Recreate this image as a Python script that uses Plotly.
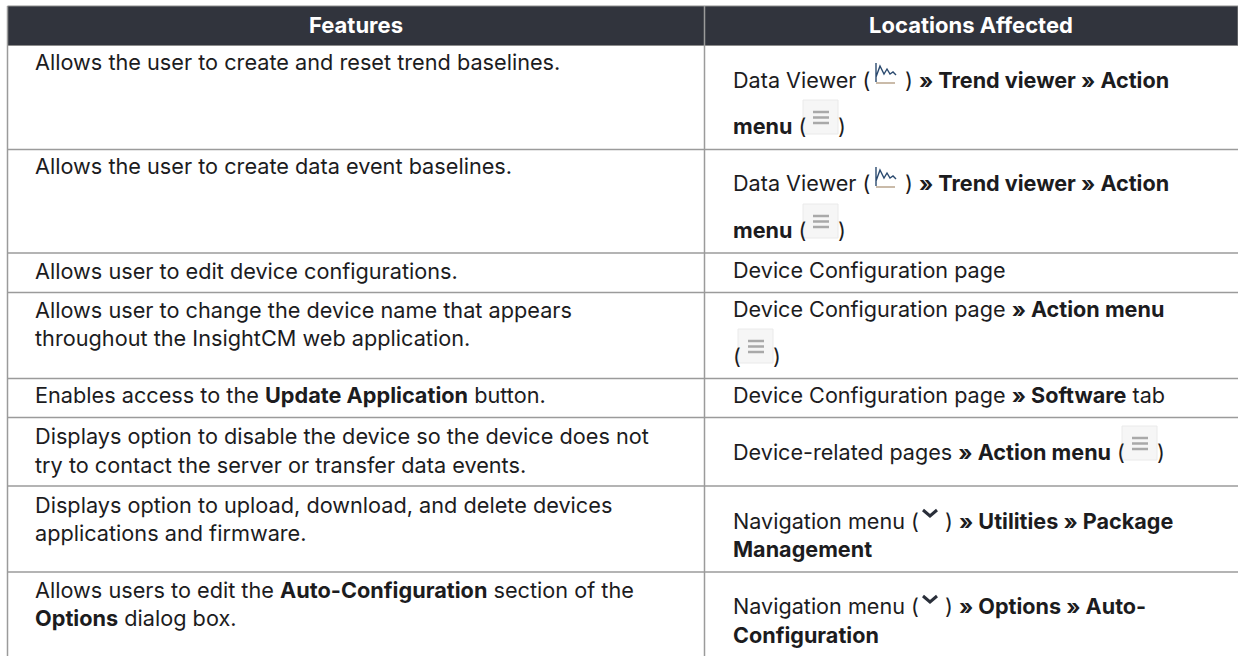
import plotly.graph_objects as go

headers = ["Features", "Locations Affected"]
feature_lines = [
    "Allows the user to create and reset trend baselines.",
    "Allows the user to create data event baselines.",
    "Allows user to edit device configurations.",
    "Allows user to change the device name that appears",
    "throughout the InsightCM web application.",
    "Enables access to the <b>Update Application</b> button.",
    "Displays option to disable the device so the device does not",
    "try to contact the server or transfer data events.",
    "Displays option to upload, download, and delete devices",
    "applications and firmware.",
    "Allows users to edit the <b>Auto-Configuration</b> section of the",
    "<b>Options</b> dialog box.",
]
location_pieces = [
    "Data Viewer (", ") <b>» Trend viewer » Action</b>", "<b>menu</b> (", ")",
    "Data Viewer (", ") <b>» Trend viewer » Action</b>", "<b>menu</b> (", ")",
    "Device Configuration page",
    "Device Configuration page <b>» Action menu</b>", "(", ")",
    "Device Configuration page <b>» Software</b> tab",
    "Device-related pages <b>» Action menu</b> (", ")",
    "Navigation menu (", ") <b>» Utilities » Package</b>", "<b>Management</b>",
    "Navigation menu (", ") <b>» Options » Auto-</b>", "<b>Configuration</b>",
]

# layout (pixels on a 1238x656 canvas)
W, H = 1238, 656
LEFT, MID = 7.5, 704.5
HEAD_TOP, HEAD_BOT = 6, 45.5
row_lines = [149.5, 253, 292.5, 378.5, 417.5, 486, 572]
feature_y = [64.5, 168.5, 273.5, 312.5, 340.5, 398, 438.5, 467.5, 507.5, 535.5, 592.5, 620.5]
FEAT_X, LOC_X = 35, 733
loc_x = [LOC_X, 905, LOC_X, 838, LOC_X, 905, LOC_X, 838, LOC_X, LOC_X, LOC_X, 773, LOC_X, LOC_X, 1157,
         LOC_X, 945, LOC_X, LOC_X, 945, LOC_X]
loc_y = [83, 83, 129, 129, 186, 186, 233, 233, 273, 312, 359, 359, 397.5, 455, 455,
         524, 524, 552, 609, 609, 638]
menu_boxes = [(803, 100), (803, 204), (738, 329), (1122, 426)]
chart_icons = [(874, 63), (874, 167)]
chevrons = [(922, 509), (922, 595)]

INK = "#1c1c1e"
FONT = "Inter"
LEFT_SIZE = 21.7
RIGHT_SIZE = 21.6
HEAD_SIZE = 22
GRID = "#9b9b9b"

shapes = [dict(type="rect", x0=LEFT, x1=W, y0=HEAD_TOP, y1=HEAD_BOT, fillcolor="#31343d",
               line=dict(color="#8c8c8c", width=1), layer="below")]
for y in row_lines:
    shapes.append(dict(type="line", x0=LEFT, x1=W, y0=y, y1=y, layer="below",
                       line=dict(color=GRID, width=1.5)))
for x in (LEFT, MID):
    shapes.append(dict(type="line", x0=x, x1=x, y0=HEAD_TOP, y1=H, layer="below",
                       line=dict(color=GRID, width=1.5)))
for (x, y) in menu_boxes:
    shapes.append(dict(type="rect", x0=x, x1=x + 35, y0=y, y1=y + 34, fillcolor="#f6f6f6", layer="below",
                       line=dict(color="#eaeaea", width=1)))
    for dy in (12, 17.5, 23):
        shapes.append(dict(type="line", x0=x + 10, x1=x + 26, y0=y + dy, y1=y + dy, layer="below",
                           line=dict(color="#a9a9a9", width=2.5)))
for (x, y) in chart_icons:
    shapes.append(dict(type="path", layer="below",
                       path=f"M {x+2} {y+20} L {x+21} {y+20}",
                       line=dict(color="#b9a48c", width=1.5)))
    shapes.append(dict(type="path", layer="below",
                       path=f"M {x+2} {y} L {x+2} {y+19} M {x+2} {y+14} L {x+6} {y+3} L {x+10} {y+11} "
                            f"L {x+13} {y+6} L {x+16} {y+11} L {x+19} {y+9} L {x+22} {y+12}",
                       line=dict(color="#2b4a6f", width=1.4)))
for (x, y) in chevrons:
    shapes.append(dict(type="path", path=f"M {x+1} {y+1} L {x+8} {y+7} L {x+15} {y+1}", layer="below",
                       line=dict(color="#2a2f3a", width=3)))

fig = go.Figure()
fig.add_trace(go.Scatter(x=[356, 971], y=[27, 27], mode="text",
                         text=[f"<b>{h}</b>" for h in headers], textposition="middle center",
                         textfont=dict(family=FONT, size=HEAD_SIZE, color="#ffffff"), hoverinfo="skip"))
fig.add_trace(go.Scatter(x=[FEAT_X] * len(feature_lines), y=feature_y, mode="text",
                         text=feature_lines, textposition="middle right",
                         textfont=dict(family=FONT, size=LEFT_SIZE, color=INK), hoverinfo="skip"))
fig.add_trace(go.Scatter(x=loc_x, y=loc_y, mode="text",
                         text=location_pieces, textposition="middle right",
                         textfont=dict(family=FONT, size=RIGHT_SIZE, color=INK), hoverinfo="skip"))
fig.update_layout(width=W, height=H, margin=dict(l=0, r=0, t=0, b=0), showlegend=False,
                  paper_bgcolor="#ffffff", plot_bgcolor="#ffffff", shapes=shapes,
                  xaxis=dict(range=[0, W], visible=False, fixedrange=True),
                  yaxis=dict(range=[H, 0], visible=False, fixedrange=True))
fig.write_html("out.html", config=dict(displayModeBar=False),
               post_script="document.body.style.margin='0';document.documentElement.style.overflow='hidden';")
